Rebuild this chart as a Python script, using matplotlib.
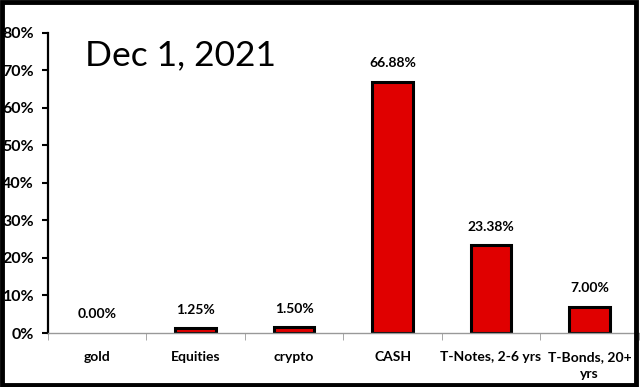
import matplotlib.pyplot as plt
from matplotlib.patches import Rectangle
from matplotlib.ticker import FixedLocator, NullFormatter

categories = ["gold", "Equities", "crypto", "CASH", "T-Notes, 2-6 yrs", "T-Bonds, 20+\nyrs"]
values = [0.00, 1.25, 1.50, 66.88, 23.38, 7.00]
yticks = [0, 10, 20, 30, 40, 50, 60, 70, 80]

plt.rcParams['font.family'] = ['Lato', 'DejaVu Sans']

fig = plt.figure(figsize=(6.4, 3.87), dpi=100)
ax = fig.add_axes([0.075, 0.1395, 0.923, 0.7755])

x = list(range(len(categories)))
# zero-height bars get no outline, like the original
edge_w = [2.2 if v > 0 else 0 for v in values]
ax.bar(x, values, width=0.41, color='#e00000', edgecolor='black', linewidth=edge_w)

for xi, v in zip(x, values):
    ax.text(xi, v + 3.4, '%.2f%%' % v, ha='center', va='bottom', fontsize=10, fontweight='bold')

ax.set_xlim(-0.5, len(categories) - 0.5)
ax.set_ylim(0, 80)
ax.set_yticks(yticks)
ax.set_yticklabels(['%d%%' % t for t in yticks], fontsize=11.5, fontweight='bold')
ax.set_xticks(x)
ax.set_xticklabels(categories, fontsize=10, fontweight='bold', linespacing=1.5)
ax.tick_params(axis='x', length=0, pad=13)
ax.xaxis.set_minor_locator(FixedLocator([i + 0.5 for i in range(-1, len(categories))]))
ax.xaxis.set_minor_formatter(NullFormatter())
ax.tick_params(axis='x', which='minor', length=5, color='#999999', direction='out')
ax.tick_params(axis='y', length=4, width=1.5, direction='out', pad=6)

for s in ['top', 'right']:
    ax.spines[s].set_visible(False)
ax.spines['left'].set_linewidth(1.6)
ax.spines['bottom'].set_color('#999999')
ax.spines['bottom'].set_linewidth(1)

ax.text(0.063, 0.98, 'Dec 1, 2021', transform=ax.transAxes, fontsize=25.5, ha='left', va='top')

fig.patches.append(Rectangle((0.003, 0.005), 0.991, 0.99, transform=fig.transFigure,
                             fill=False, edgecolor='black', linewidth=3.5))

fig.savefig('out.png', dpi=100)
